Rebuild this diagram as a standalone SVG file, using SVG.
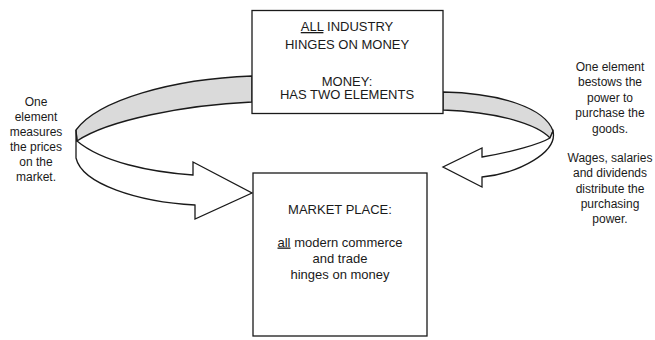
<svg xmlns="http://www.w3.org/2000/svg" width="655" height="340" viewBox="0 0 655 340">
  <style>
    .ln { fill: none; stroke: #1a1a1a; stroke-width: 1.3; stroke-linejoin: miter; }
    .gray { fill: #dadada; stroke: #1a1a1a; stroke-width: 1.3; }
    .white { fill: #ffffff; stroke: #1a1a1a; stroke-width: 1.3; stroke-linejoin: miter; }
    .box { fill: #ffffff; stroke: #1a1a1a; stroke-width: 1.3; }
    .t { font-family: "Liberation Sans", Arial, sans-serif; fill: #1a1a1a; text-anchor: middle; }
    .big { font-size: 13px; }
    .small { font-size: 12px; }
    .u { text-decoration: underline; }
  </style>
  <rect width="655" height="340" fill="#ffffff"/>

  <g id="connectors">
    <g id="left-arrow">
      <path class="gray" d="M252,76 C172,79 98,100 76,130 L77,141 C108,120 185,105 252,102 Z"/>
      <path class="white" d="M76,130 L76,158 C82,184 138,202 195,205 L195,219 L252,193 L193,162 L193,175 C150,172 102,162 77,141 Z"/>
    </g>
    <g id="right-arrow">
      <path class="gray" d="M443,92 C500,93 545,108 553,131 L550,138 C538,125 500,112 443,110 Z"/>
      <path class="white" d="M553,131 C558,152 520,173 482,177 L482,187 L443,167 L482,148 L482,157 C512,152 540,144 550,138 Z"/>
    </g>
  </g>

  <g id="node-top">
    <rect class="box" x="252" y="10.5" width="191" height="103"/>
    <text class="t big" x="347" y="31"><tspan class="u">ALL</tspan> INDUSTRY</text>
    <text class="t big" x="347" y="49">HINGES ON MONEY</text>
    <text class="t big" x="347" y="85.5">MONEY:</text>
    <text class="t big" x="347" y="99">HAS TWO ELEMENTS</text>
  </g>

  <g id="node-bottom">
    <rect class="box" x="253" y="173" width="174" height="163"/>
    <text class="t big" x="340" y="214">MARKET PLACE:</text>
    <text class="t big" x="340" y="246.5"><tspan class="u">all</tspan> modern commerce</text>
    <text class="t big" x="340" y="262.5">and trade</text>
    <text class="t big" x="340" y="278.5">hinges on money</text>
  </g>

  <g id="label-left">
    <text class="t small" x="36" y="105.5">One</text>
    <text class="t small" x="36" y="120.5">element</text>
    <text class="t small" x="36" y="135.5">measures</text>
    <text class="t small" x="36" y="150.5">the prices</text>
    <text class="t small" x="36" y="165.5">on the</text>
    <text class="t small" x="36" y="180.5">market.</text>
  </g>

  <g id="label-right">
    <text class="t small" x="610" y="70.5">One element</text>
    <text class="t small" x="610" y="86">bestows the</text>
    <text class="t small" x="610" y="101.5">power to</text>
    <text class="t small" x="610" y="117">purchase the</text>
    <text class="t small" x="610" y="132.5">goods.</text>
    <text class="t small" x="610" y="161.5">Wages, salaries</text>
    <text class="t small" x="610" y="177">and dividends</text>
    <text class="t small" x="610" y="192.5">distribute the</text>
    <text class="t small" x="610" y="208">purchasing</text>
    <text class="t small" x="610" y="223">power.</text>
  </g>
</svg>
